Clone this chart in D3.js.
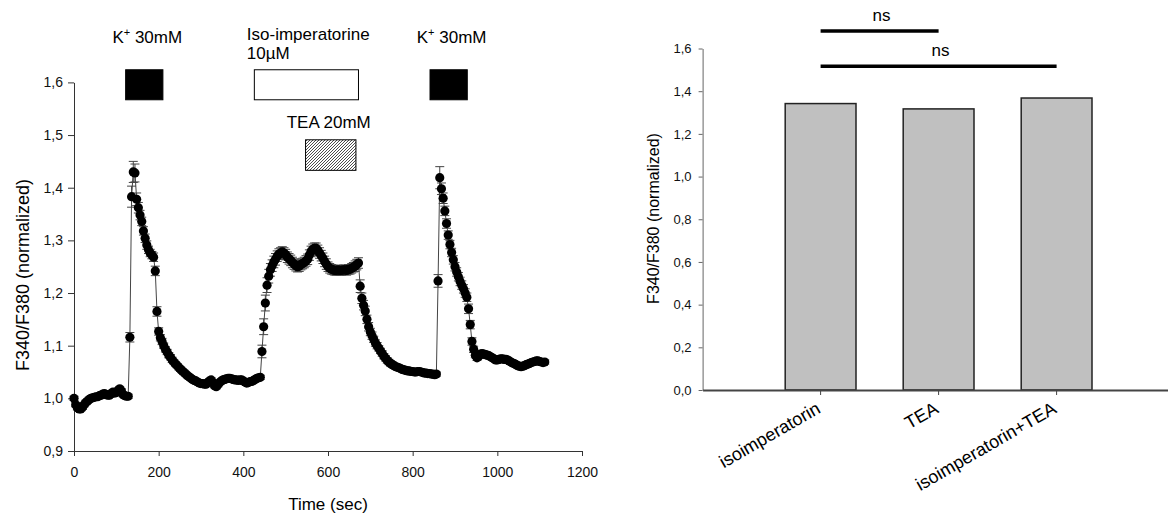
<!DOCTYPE html>
<html><head><meta charset="utf-8">
<script src="https://cdn.jsdelivr.net/npm/d3@7"></script>
<style>
body{margin:0;background:#fff;}
svg{display:block;font-family:"Liberation Sans",Arial,sans-serif;}
</style></head><body>
<svg id="chart" width="1168" height="517"></svg>
<script>
// ---------- DATA: left panel (Ca2+ trace, one sample every 4 s) ----------
const traceStart = 0;      // s
const traceInterval = 4;   // s between samples
const traceValues = [
  1.000,0.988,0.982,0.980,0.980,0.983,0.988,0.992,0.995,0.998,   // 0
  1.000,1.001,1.002,1.003,1.003,1.005,1.006,1.008,1.009,1.007,   // 40
  1.006,1.006,1.009,1.012,1.010,1.011,1.015,1.018,1.014,1.007,   // 80
  1.005,1.004,1.004,1.116,1.383,1.430,1.428,1.378,1.362,1.348,   // 120
  1.336,1.318,1.304,1.291,1.282,1.276,1.272,1.268,1.242,1.165,   // 160
  1.127,1.115,1.108,1.100,1.093,1.088,1.082,1.078,1.073,1.069,   // 200
  1.065,1.062,1.058,1.055,1.052,1.049,1.046,1.043,1.041,1.038,   // 240
  1.036,1.034,1.033,1.031,1.029,1.028,1.028,1.027,1.027,1.030,   // 280
  1.033,1.035,1.030,1.024,1.022,1.026,1.030,1.033,1.035,1.036,   // 320
  1.037,1.038,1.038,1.037,1.036,1.035,1.035,1.034,1.035,1.035,   // 360
  1.033,1.031,1.029,1.030,1.032,1.032,1.034,1.036,1.038,1.039,   // 400
  1.040,1.089,1.136,1.181,1.215,1.232,1.244,1.252,1.259,1.264,   // 440
  1.270,1.274,1.276,1.278,1.276,1.273,1.268,1.265,1.262,1.258,   // 480
  1.255,1.252,1.250,1.251,1.254,1.256,1.258,1.261,1.264,1.272,   // 520
  1.279,1.283,1.285,1.285,1.281,1.276,1.271,1.266,1.260,1.255,   // 560
  1.250,1.247,1.245,1.244,1.243,1.243,1.244,1.243,1.243,1.244,   // 600
  1.244,1.243,1.245,1.245,1.247,1.249,1.251,1.254,1.257,1.213,   // 640
  1.190,1.177,1.166,1.150,1.136,1.126,1.119,1.112,1.105,1.100,   // 680
  1.095,1.090,1.085,1.080,1.076,1.072,1.069,1.066,1.064,1.062,   // 720
  1.060,1.059,1.058,1.056,1.055,1.054,1.053,1.052,1.052,1.051,   // 760
  1.051,1.050,1.050,1.051,1.051,1.050,1.049,1.048,1.048,1.047,   // 800
  1.047,1.046,1.046,1.045,1.046,1.223,1.419,1.398,1.380,1.356,   // 840
  1.332,1.310,1.292,1.277,1.263,1.250,1.240,1.231,1.222,1.215,   // 880
  1.208,1.200,1.192,1.170,1.140,1.108,1.093,1.082,1.077,1.080,   // 920
  1.084,1.085,1.084,1.083,1.082,1.081,1.079,1.077,1.075,1.073,   // 960
  1.073,1.074,1.075,1.075,1.074,1.074,1.073,1.071,1.069,1.067,   // 1000
  1.066,1.064,1.062,1.061,1.060,1.061,1.062,1.064,1.065,1.066,   // 1040
  1.068,1.069,1.070,1.071,1.071,1.070,1.069,1.068,1.069          // 1080
];
const traceErrors = [
  0.004,0.004,0.004,0.004,0.004,0.004,0.004,0.004,0.004,0.004,
  0.004,0.004,0.004,0.004,0.004,0.004,0.004,0.004,0.004,0.004,
  0.004,0.004,0.004,0.004,0.004,0.004,0.004,0.004,0.004,0.004,
  0.004,0.004,0.004,0.009,0.020,0.020,0.017,0.012,0.010,0.009,
  0.008,0.008,0.008,0.008,0.007,0.007,0.007,0.008,0.009,0.009,
  0.007,0.006,0.006,0.005,0.005,0.005,0.005,0.005,0.005,0.004,
  0.004,0.004,0.004,0.004,0.004,0.004,0.004,0.004,0.004,0.004,
  0.004,0.004,0.004,0.004,0.004,0.004,0.004,0.004,0.004,0.004,
  0.004,0.004,0.004,0.004,0.004,0.004,0.004,0.004,0.004,0.004,
  0.004,0.004,0.004,0.004,0.004,0.004,0.004,0.004,0.004,0.004,
  0.004,0.004,0.004,0.004,0.004,0.004,0.004,0.004,0.004,0.004,
  0.004,0.012,0.015,0.015,0.014,0.013,0.012,0.011,0.011,0.011,
  0.010,0.010,0.010,0.010,0.010,0.010,0.010,0.010,0.010,0.010,
  0.010,0.010,0.010,0.010,0.010,0.010,0.010,0.010,0.010,0.010,
  0.010,0.010,0.010,0.010,0.010,0.010,0.010,0.010,0.010,0.010,
  0.009,0.009,0.009,0.009,0.009,0.009,0.009,0.009,0.009,0.009,
  0.009,0.009,0.009,0.009,0.009,0.009,0.010,0.010,0.010,0.012,
  0.010,0.009,0.009,0.008,0.008,0.007,0.007,0.006,0.006,0.006,
  0.005,0.005,0.005,0.005,0.005,0.005,0.005,0.005,0.005,0.005,
  0.004,0.004,0.004,0.004,0.004,0.004,0.004,0.004,0.004,0.004,
  0.004,0.004,0.004,0.004,0.004,0.004,0.004,0.004,0.004,0.004,
  0.004,0.004,0.004,0.004,0.004,0.012,0.021,0.011,0.010,0.009,
  0.009,0.008,0.008,0.008,0.008,0.008,0.008,0.008,0.008,0.008,
  0.008,0.008,0.008,0.009,0.008,0.007,0.006,0.005,0.005,0.004,
  0.004,0.004,0.004,0.004,0.004,0.004,0.004,0.004,0.004,0.004,
  0.004,0.004,0.004,0.004,0.004,0.004,0.004,0.004,0.004,0.004,
  0.004,0.004,0.004,0.004,0.004,0.004,0.004,0.004,0.004,0.004,
  0.004,0.004,0.004,0.004,0.004,0.004,0.004,0.004,0.004
];
const timeTicks = [0, 200, 400, 600, 800, 1000, 1200];
const ratioTicksLeft = [0.9, 1.0, 1.1, 1.2, 1.3, 1.4, 1.5, 1.6];
// drug application periods (s)
const kPeriods = [{start: 122, end: 210}, {start: 841, end: 929}];
const isoPeriod = {start: 426, end: 672};
const teaPeriod = {start: 547, end: 666};
const kLabel = "30mM";
const isoLabel = ["Iso-imperatorine", "10µM"];
const teaLabel = "TEA 20mM";

// ---------- DATA: right panel (bar chart) ----------
const categories = ["isoimperatorin", "TEA", "isoimperatorin+TEA"];
const barValues = [1.342, 1.317, 1.368];
const ratioTicksRight = [0, 0.2, 0.4, 0.6, 0.8, 1.0, 1.2, 1.4, 1.6];
const comparisons = [
  {a: "isoimperatorin", b: "TEA", level: 1.682, label: "ns"},
  {a: "isoimperatorin", b: "isoimperatorin+TEA", level: 1.517, label: "ns"}
];

// ---------- DRAW ----------
const svg = d3.select("#chart");
const comma = v => d3.format(".1f")(v).replace(".", ",");

// defs: hatch
svg.append("defs").append("pattern")
  .attr("id", "hatch").attr("patternUnits", "userSpaceOnUse")
  .attr("width", 3).attr("height", 3)
  .append("path")
  .attr("d", "M-0.75,0.75 l1.5,-1.5 M0,3 l3,-3 M2.25,3.75 l1.5,-1.5")
  .attr("stroke", "#000").attr("stroke-width", 0.7);

// ===== Left panel =====
const xL = d3.scaleLinear().domain([0, 1200]).range([74, 582]);
const yL = d3.scaleLinear().domain([0.9, 1.6]).range([451, 82.4]);
const trace = traceValues.map((v, i) => ({t: traceStart + i * traceInterval, v, e: traceErrors[i] || 0}));

const gL = svg.append("g");
// axes
const axL = gL.append("g").attr("transform", "translate(74,0)")
  .call(d3.axisLeft(yL).tickValues(ratioTicksLeft).tickFormat(comma).tickSize(6).tickPadding(5).tickSizeOuter(0));
const axB = gL.append("g").attr("transform", "translate(0,451)")
  .call(d3.axisBottom(xL).tickValues(timeTicks).tickFormat(d3.format("d")).tickSize(5).tickPadding(11).tickSizeOuter(0));
[axL, axB].forEach(a => {
  a.selectAll("path,line").attr("stroke", "#333");
  a.selectAll("text").attr("font-size", 14).attr("fill", "#111").attr("font-family", "Liberation Sans, Arial, sans-serif");
});

// error bars
const eb = gL.append("g").attr("stroke", "#444").attr("stroke-width", 1);
trace.forEach(d => {
  const x = xL(d.t), y1 = yL(d.v + d.e), y0 = yL(d.v - d.e);
  eb.append("line").attr("x1", x).attr("x2", x).attr("y1", y1).attr("y2", y0);
  eb.append("line").attr("x1", x - 4.5).attr("x2", x + 4.5).attr("y1", y1).attr("y2", y1);
  eb.append("line").attr("x1", x - 4.5).attr("x2", x + 4.5).attr("y1", y0).attr("y2", y0);
});
// line
gL.append("path").datum(trace)
  .attr("d", d3.line().x(d => xL(d.t)).y(d => yL(d.v)))
  .attr("fill", "none").attr("stroke", "#444").attr("stroke-width", 1);
// dots
gL.append("g").selectAll("circle").data(trace).join("circle")
  .attr("cx", d => xL(d.t)).attr("cy", d => yL(d.v)).attr("r", 4.6).attr("fill", "#000");

// stimulus boxes
const boxTop = 1.624, boxBottom = 1.567, teaTop = 1.491, teaBottom = 1.433;
kPeriods.forEach(p => {
  gL.append("rect").attr("x", xL(p.start)).attr("y", yL(boxTop))
    .attr("width", xL(p.end) - xL(p.start)).attr("height", yL(boxBottom) - yL(boxTop))
    .attr("fill", "#000").attr("stroke", "#000");
  const t = gL.append("text").attr("x", (xL(p.start) + xL(p.end)) / 2 + 3).attr("y", yL(boxTop) - 26.6)
    .attr("text-anchor", "middle").attr("font-size", 17).attr("fill", "#000");
  t.append("tspan").text("K");
  t.append("tspan").text("+").attr("font-size", 11).attr("dy", -7);
  t.append("tspan").text(" " + kLabel).attr("dy", 7);
});
gL.append("rect").attr("x", xL(isoPeriod.start)).attr("y", yL(boxTop))
  .attr("width", xL(isoPeriod.end) - xL(isoPeriod.start)).attr("height", yL(boxBottom) - yL(boxTop))
  .attr("fill", "#fff").attr("stroke", "#000").attr("stroke-width", 1);
isoLabel.forEach((s, i) => {
  gL.append("text").attr("x", xL(isoPeriod.start) - 7.5).attr("y", yL(boxTop) - 29.3 + i * 19)
    .attr("font-size", 17).attr("fill", "#000").text(s);
});
gL.append("rect").attr("x", xL(teaPeriod.start)).attr("y", yL(teaTop))
  .attr("width", xL(teaPeriod.end) - xL(teaPeriod.start)).attr("height", yL(teaBottom) - yL(teaTop))
  .attr("fill", "url(#hatch)").attr("stroke", "#000").attr("stroke-width", 1);
gL.append("text").attr("x", (xL(teaPeriod.start) + xL(teaPeriod.end)) / 2 - 2).attr("y", yL(teaTop) - 11.7)
  .attr("text-anchor", "middle").attr("font-size", 17).attr("fill", "#000").text(teaLabel);

// axis titles
gL.append("text").attr("x", 328).attr("y", 510).attr("text-anchor", "middle")
  .attr("font-size", 17).attr("fill", "#000").text("Time (sec)");
gL.append("text").attr("transform", "translate(23,275) rotate(-90)").attr("dy", "0.35em")
  .attr("text-anchor", "middle").attr("font-size", 18).attr("fill", "#000").text("F340/F380 (normalized)");

// ===== Right panel =====
const xR = d3.scaleBand().domain(categories).range([702.6, 1174.6]).paddingInner(0.4).paddingOuter(0.7);
const yR = d3.scaleLinear().domain([0, 1.6]).range([390, 48.5]);
const gR = svg.append("g");

gR.append("g").selectAll("rect").data(categories).join("rect")
  .attr("x", d => xR(d)).attr("y", (d, i) => yR(barValues[i]))
  .attr("width", xR.bandwidth()).attr("height", (d, i) => yR(0) - yR(barValues[i]))
  .attr("fill", "#c0c0c0").attr("stroke", "#222").attr("stroke-width", 1.5);

const axRL = gR.append("g").attr("transform", "translate(702.6,0)")
  .call(d3.axisLeft(yR).tickValues(ratioTicksRight).tickFormat(comma).tickSize(4).tickPadding(7).tickSizeOuter(0));
axRL.selectAll("path,line").attr("stroke", "#666");
axRL.selectAll("text").attr("font-size", 13).attr("fill", "#111").attr("font-family", "Liberation Sans, Arial, sans-serif");

const axRB = gR.append("g").attr("transform", "translate(0,390)")
  .call(d3.axisBottom(xR).tickSize(5).tickSizeOuter(0));
axRB.select("path").attr("stroke", "#444").attr("stroke-width", 2);
axRB.selectAll("line").attr("stroke", "#444");
axRB.selectAll("text")
  .attr("text-anchor", "end").attr("font-size", 18).attr("fill", "#000")
  .attr("font-family", "Liberation Sans, Arial, sans-serif")
  .attr("y", 0).attr("dy", 0)
  .attr("transform", "translate(1,22) rotate(-30)");

gR.append("text").attr("transform", "translate(653.5,218.5) rotate(-90)").attr("dy", "0.35em")
  .attr("text-anchor", "middle").attr("font-size", 16).attr("fill", "#000").text("F340/F380 (normalized)");

// significance brackets
const cx = c => xR(c) + xR.bandwidth() / 2;
comparisons.forEach(c => {
  const y = yR(c.level);
  gR.append("line").attr("x1", cx(c.a)).attr("x2", cx(c.b)).attr("y1", y).attr("y2", y)
    .attr("stroke", "#000").attr("stroke-width", 3.5);
  gR.append("text").attr("x", (cx(c.a) + cx(c.b)) / 2 + 2).attr("y", y - 10)
    .attr("text-anchor", "middle").attr("font-size", 17).attr("fill", "#000").text(c.label);
});
</script>
</body></html>
